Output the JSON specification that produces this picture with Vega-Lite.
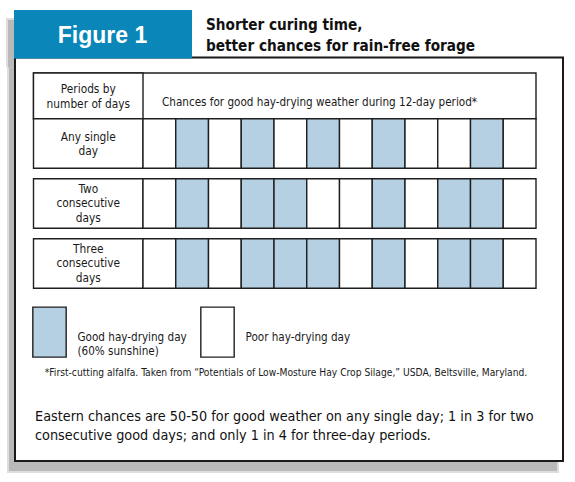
{
  "$schema": "https://vega.github.io/schema/vega-lite/v6.json",
  "width": 575,
  "height": 482,
  "autosize": "none",
  "padding": 0,
  "background": "#ffffff",
  "config": {"view": {"stroke": null}, "font": "DejaVu Sans Condensed, sans-serif"},
  "layer": [
    {
      "data": {"values": [{}]},
      "mark": {"type": "rect", "fill": "#dedede"},
      "encoding": {
        "x": {"datum": -3.6832, "type": "quantitative", "scale": {"domain": [-3.86641, 13.69084], "nice": false, "zero": false}, "axis": null},
        "x2": {"datum": 1.874},
        "y": {"datum": -1.0917, "type": "quantitative", "scale": {"domain": [-1.39167, 6.64167], "reverse": true, "nice": false, "zero": false}, "axis": null},
        "y2": {"datum": -0.275}
      }
    },
    {
      "data": {"values": [{}]},
      "mark": {"type": "rect", "fill": "#dedede"},
      "encoding": {
        "x": {"datum": -3.6527, "type": "quantitative", "scale": {"domain": [-3.86641, 13.69084], "nice": false, "zero": false}, "axis": null},
        "x2": {"datum": 13.2023},
        "y": {"datum": -0.3, "type": "quantitative", "scale": {"domain": [-1.39167, 6.64167], "reverse": true, "nice": false, "zero": false}, "axis": null},
        "y2": {"datum": 6.4917}
      }
    },
    {
      "data": {"values": [{}]},
      "mark": {"type": "rect", "fill": "#b9b9b9"},
      "encoding": {
        "x": {"datum": -3.6221, "type": "quantitative", "scale": {"domain": [-3.86641, 13.69084], "nice": false, "zero": false}, "axis": null},
        "x2": {"datum": 1.813},
        "y": {"datum": -1.0583, "type": "quantitative", "scale": {"domain": [-1.39167, 6.64167], "reverse": true, "nice": false, "zero": false}, "axis": null},
        "y2": {"datum": -0.2667}
      }
    },
    {
      "data": {"values": [{}]},
      "mark": {"type": "rect", "fill": "#b9b9b9"},
      "encoding": {
        "x": {"datum": -3.5916, "type": "quantitative", "scale": {"domain": [-3.86641, 13.69084], "nice": false, "zero": false}, "axis": null},
        "x2": {"datum": 13.1412},
        "y": {"datum": -0.2667, "type": "quantitative", "scale": {"domain": [-1.39167, 6.64167], "reverse": true, "nice": false, "zero": false}, "axis": null},
        "y2": {"datum": 6.4583}
      }
    },
    {
      "data": {"values": [{}]},
      "mark": {"type": "rect", "fill": "#ffffff", "stroke": "#1a1a1a", "strokeWidth": 2},
      "encoding": {
        "x": {"datum": -3.4084, "type": "quantitative", "scale": {"domain": [-3.86641, 13.69084], "nice": false, "zero": false}, "axis": null},
        "x2": {"datum": 13.3244},
        "y": {"datum": -0.4333, "type": "quantitative", "scale": {"domain": [-1.39167, 6.64167], "reverse": true, "nice": false, "zero": false}, "axis": null},
        "y2": {"datum": 6.2917}
      }
    },
    {
      "data": {"values": [{}]},
      "mark": {"type": "rect", "fill": "#0a87b8"},
      "encoding": {
        "x": {"datum": -3.4389, "type": "quantitative", "scale": {"domain": [-3.86641, 13.69084], "nice": false, "zero": false}, "axis": null},
        "x2": {"datum": 1.9962},
        "y": {"datum": -1.225, "type": "quantitative", "scale": {"domain": [-1.39167, 6.64167], "reverse": true, "nice": false, "zero": false}, "axis": null},
        "y2": {"datum": -0.4167}
      }
    },
    {
      "data": {"values": [{}]},
      "mark": {"type": "rect", "fill": "#ffffff", "stroke": "#1f1f1f", "strokeWidth": 1.4},
      "encoding": {
        "x": {"datum": -2.8435, "type": "quantitative", "scale": {"domain": [-3.86641, 13.69084], "nice": false, "zero": false}, "axis": null},
        "x2": {"datum": 12.5},
        "y": {"datum": -0.175, "type": "quantitative", "scale": {"domain": [-1.39167, 6.64167], "reverse": true, "nice": false, "zero": false}, "axis": null},
        "y2": {"datum": 0.5875}
      }
    },
    {
      "data": {"values": [{}]},
      "mark": {"type": "rect", "fill": "#ffffff", "stroke": "#1f1f1f", "strokeWidth": 1.4},
      "encoding": {
        "x": {"datum": -2.8435, "type": "quantitative", "scale": {"domain": [-3.86641, 13.69084], "nice": false, "zero": false}, "axis": null},
        "x2": {"datum": 0.5},
        "y": {"datum": -0.175, "type": "quantitative", "scale": {"domain": [-1.39167, 6.64167], "reverse": true, "nice": false, "zero": false}, "axis": null},
        "y2": {"datum": 0.5875}
      }
    },
    {
      "data": {"name": "periods", "values": [
        {"period": "Any single day", "row": 1, "label": "Any single\nday"},
        {"period": "Two consecutive days", "row": 2, "label": "Two\nconsecutive\ndays"},
        {"period": "Three consecutive days", "row": 3, "label": "Three\nconsecutive\ndays"}
      ]},
      "layer": [
        {
          "mark": {"type": "rect", "fill": "#ffffff", "stroke": "#1f1f1f", "strokeWidth": 1.4, "height": 49.5},
          "encoding": {
            "x": {"datum": -2.8435, "type": "quantitative", "scale": {"domain": [-3.86641, 13.69084], "nice": false, "zero": false}, "axis": null},
            "x2": {"datum": 0.5},
            "y": {"field": "row", "type": "quantitative", "scale": {"domain": [-1.39167, 6.64167], "reverse": true, "nice": false, "zero": false}, "axis": null}
          }
        },
        {
          "transform": [{"filter": "datum.row == 1"}],
          "mark": {"type": "text", "fontSize": 11.8, "lineHeight": 14.5, "lineBreak": "\n", "align": "center", "baseline": "middle", "dy": -7, "color": "#1a1a1a"},
          "encoding": {
            "x": {"datum": -1.1702, "type": "quantitative", "scale": {"domain": [-3.86641, 13.69084], "nice": false, "zero": false}, "axis": null},
            "y": {"field": "row", "type": "quantitative", "scale": {"domain": [-1.39167, 6.64167], "reverse": true, "nice": false, "zero": false}, "axis": null},
            "text": {"field": "label"}
          }
        },
        {
          "transform": [{"filter": "datum.row > 1"}],
          "mark": {"type": "text", "fontSize": 11.8, "lineHeight": 14.5, "lineBreak": "\n", "align": "center", "baseline": "middle", "dy": -14.8, "color": "#1a1a1a"},
          "encoding": {
            "x": {"datum": -1.1702, "type": "quantitative", "scale": {"domain": [-3.86641, 13.69084], "nice": false, "zero": false}, "axis": null},
            "y": {"field": "row", "type": "quantitative", "scale": {"domain": [-1.39167, 6.64167], "reverse": true, "nice": false, "zero": false}, "axis": null},
            "text": {"field": "label"}
          }
        }
      ]
    },
    {
      "data": {"values": [
        {"period": "Any single day", "row": 1, "day": 1, "weather": "Poor"},
        {"period": "Any single day", "row": 1, "day": 2, "weather": "Good"},
        {"period": "Any single day", "row": 1, "day": 3, "weather": "Poor"},
        {"period": "Any single day", "row": 1, "day": 4, "weather": "Good"},
        {"period": "Any single day", "row": 1, "day": 5, "weather": "Poor"},
        {"period": "Any single day", "row": 1, "day": 6, "weather": "Good"},
        {"period": "Any single day", "row": 1, "day": 7, "weather": "Poor"},
        {"period": "Any single day", "row": 1, "day": 8, "weather": "Good"},
        {"period": "Any single day", "row": 1, "day": 9, "weather": "Poor"},
        {"period": "Any single day", "row": 1, "day": 10, "weather": "Poor"},
        {"period": "Any single day", "row": 1, "day": 11, "weather": "Good"},
        {"period": "Any single day", "row": 1, "day": 12, "weather": "Poor"},
        {"period": "Two consecutive days", "row": 2, "day": 1, "weather": "Poor"},
        {"period": "Two consecutive days", "row": 2, "day": 2, "weather": "Good"},
        {"period": "Two consecutive days", "row": 2, "day": 3, "weather": "Poor"},
        {"period": "Two consecutive days", "row": 2, "day": 4, "weather": "Good"},
        {"period": "Two consecutive days", "row": 2, "day": 5, "weather": "Good"},
        {"period": "Two consecutive days", "row": 2, "day": 6, "weather": "Poor"},
        {"period": "Two consecutive days", "row": 2, "day": 7, "weather": "Poor"},
        {"period": "Two consecutive days", "row": 2, "day": 8, "weather": "Good"},
        {"period": "Two consecutive days", "row": 2, "day": 9, "weather": "Poor"},
        {"period": "Two consecutive days", "row": 2, "day": 10, "weather": "Good"},
        {"period": "Two consecutive days", "row": 2, "day": 11, "weather": "Good"},
        {"period": "Two consecutive days", "row": 2, "day": 12, "weather": "Poor"},
        {"period": "Three consecutive days", "row": 3, "day": 1, "weather": "Poor"},
        {"period": "Three consecutive days", "row": 3, "day": 2, "weather": "Good"},
        {"period": "Three consecutive days", "row": 3, "day": 3, "weather": "Poor"},
        {"period": "Three consecutive days", "row": 3, "day": 4, "weather": "Good"},
        {"period": "Three consecutive days", "row": 3, "day": 5, "weather": "Good"},
        {"period": "Three consecutive days", "row": 3, "day": 6, "weather": "Good"},
        {"period": "Three consecutive days", "row": 3, "day": 7, "weather": "Poor"},
        {"period": "Three consecutive days", "row": 3, "day": 8, "weather": "Good"},
        {"period": "Three consecutive days", "row": 3, "day": 9, "weather": "Poor"},
        {"period": "Three consecutive days", "row": 3, "day": 10, "weather": "Good"},
        {"period": "Three consecutive days", "row": 3, "day": 11, "weather": "Good"},
        {"period": "Three consecutive days", "row": 3, "day": 12, "weather": "Poor"}
      ]},
      "mark": {"type": "rect", "width": 32.75, "height": 49.5, "stroke": "#1f1f1f", "strokeWidth": 1.4, "opacity": 1},
      "encoding": {
        "x": {"field": "day", "type": "quantitative", "scale": {"domain": [-3.86641, 13.69084], "nice": false, "zero": false}, "axis": null},
        "y": {"field": "row", "type": "quantitative", "scale": {"domain": [-1.39167, 6.64167], "reverse": true, "nice": false, "zero": false}, "axis": null},
        "color": {
          "field": "weather", "type": "nominal",
          "scale": {"domain": ["Good", "Poor"], "range": ["#b5cfe3", "#ffffff"]},
          "legend": {
            "orient": "none", "legendX": 23.5, "legendY": 306, "direction": "horizontal", "columns": 2,
            "title": null, "padding": 0,
            "symbolType": "M-0.667,-1H0.667V1H-0.667Z", "symbolSize": 2500,
            "symbolStrokeColor": "#1f1f1f", "symbolStrokeWidth": 1.4, "symbolOpacity": 1,
            "labelFontSize": 11.6, "labelColor": "#1a1a1a", "labelOffset": 2, "labelBaseline": "top", "labelLimit": 300,
            "columnPadding": 4,
            "labelExpr": "datum.value == 'Good' ? ['Good hay-drying day', '(60% sunshine)'] : 'Poor hay-drying day'"
          }
        }
      }
    },
    {
      "data": {"values": [{"text": "Figure 1"}]},
      "mark": {"type": "text", "font": "Liberation Sans", "fontWeight": "bold", "fontSize": 23, "align": "center", "baseline": "alphabetic", "color": "#ffffff"},
      "encoding": {
        "x": {"datum": -0.7366, "type": "quantitative", "scale": {"domain": [-3.86641, 13.69084], "nice": false, "zero": false}, "axis": null},
        "y": {"datum": -0.675, "type": "quantitative", "scale": {"domain": [-1.39167, 6.64167], "reverse": true, "nice": false, "zero": false}, "axis": null},
        "text": {"field": "text"}
      }
    },
    {
      "data": {"values": [{"text": "Shorter curing time,\nbetter chances for rain-free forage"}]},
      "mark": {"type": "text", "fontWeight": "bold", "fontSize": 15.2, "lineHeight": 21.5, "lineBreak": "\n", "align": "left", "baseline": "alphabetic", "color": "#111111"},
      "encoding": {
        "x": {"datum": 2.4237, "type": "quantitative", "scale": {"domain": [-3.86641, 13.69084], "nice": false, "zero": false}, "axis": null},
        "y": {"datum": -0.8917, "type": "quantitative", "scale": {"domain": [-1.39167, 6.64167], "reverse": true, "nice": false, "zero": false}, "axis": null},
        "text": {"field": "text"}
      }
    },
    {
      "data": {"values": [{"text": "Periods by\nnumber of days"}]},
      "mark": {"type": "text", "fontSize": 11.8, "lineHeight": 15, "lineBreak": "\n", "align": "center", "baseline": "alphabetic", "color": "#1a1a1a"},
      "encoding": {
        "x": {"datum": -1.1702, "type": "quantitative", "scale": {"domain": [-3.86641, 13.69084], "nice": false, "zero": false}, "axis": null},
        "y": {"datum": 0.15, "type": "quantitative", "scale": {"domain": [-1.39167, 6.64167], "reverse": true, "nice": false, "zero": false}, "axis": null},
        "text": {"field": "text"}
      }
    },
    {
      "data": {"values": [{"text": "Chances for good hay-drying weather during 12-day period*"}]},
      "mark": {"type": "text", "fontSize": 11.6, "align": "left", "baseline": "alphabetic", "color": "#1a1a1a"},
      "encoding": {
        "x": {"datum": 1.0802, "type": "quantitative", "scale": {"domain": [-3.86641, 13.69084], "nice": false, "zero": false}, "axis": null},
        "y": {"datum": 0.3833, "type": "quantitative", "scale": {"domain": [-1.39167, 6.64167], "reverse": true, "nice": false, "zero": false}, "axis": null},
        "text": {"field": "text"}
      }
    },
    {
      "data": {"values": [{"text": "*First-cutting alfalfa. Taken from “Potentials of Low-Mosture Hay Crop Silage,” USDA, Beltsville, Maryland."}]},
      "mark": {"type": "text", "fontSize": 10.2, "align": "center", "baseline": "alphabetic", "color": "#1a1a1a"},
      "encoding": {
        "x": {"datum": 4.8664, "type": "quantitative", "scale": {"domain": [-3.86641, 13.69084], "nice": false, "zero": false}, "axis": null},
        "y": {"datum": 4.8833, "type": "quantitative", "scale": {"domain": [-1.39167, 6.64167], "reverse": true, "nice": false, "zero": false}, "axis": null},
        "text": {"field": "text"}
      }
    },
    {
      "data": {"values": [{"text": "Eastern chances are 50-50 for good weather on any single day; 1 in 3 for two\nconsecutive good days; and only 1 in 4 for three-day periods."}]},
      "mark": {"type": "text", "fontSize": 14.3, "lineHeight": 19, "lineBreak": "\n", "align": "left", "baseline": "alphabetic", "color": "#111111"},
      "encoding": {
        "x": {"datum": -2.7977, "type": "quantitative", "scale": {"domain": [-3.86641, 13.69084], "nice": false, "zero": false}, "axis": null},
        "y": {"datum": 5.625, "type": "quantitative", "scale": {"domain": [-1.39167, 6.64167], "reverse": true, "nice": false, "zero": false}, "axis": null},
        "text": {"field": "text"}
      }
    }
  ]
}
